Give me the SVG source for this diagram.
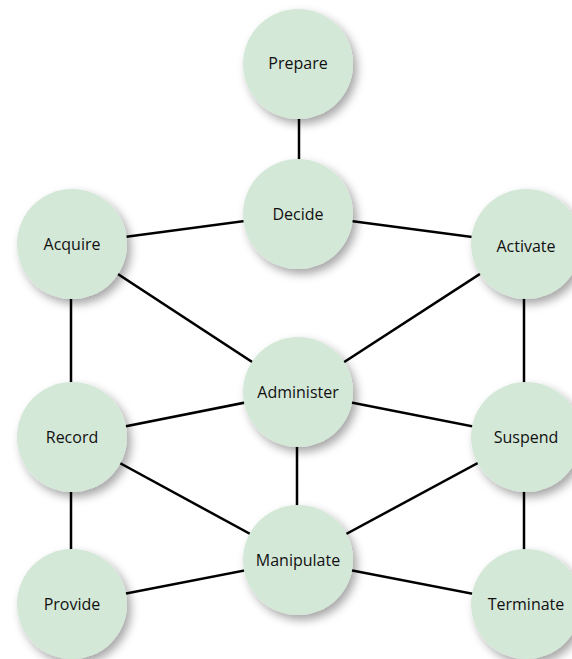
<svg xmlns="http://www.w3.org/2000/svg" width="572" height="659" viewBox="0 0 572 659">
<defs>
<filter id="sh" x="-30%" y="-30%" width="170%" height="170%">
<feDropShadow dx="4" dy="5" stdDeviation="5" flood-color="#000" flood-opacity="0.35"/>
</filter>
</defs>
<style>
.n circle{fill:#d4e8d8;filter:url(#sh)}
.n text{font-family:"Open Sans","Noto Sans",sans-serif;font-size:16px;fill:#111;text-anchor:middle;dominant-baseline:central}
#edges line{stroke:#000;stroke-width:2.5}
</style>
<rect width="572" height="659" fill="#fff"/>
<g id="edges">
<line x1="299" y1="64" x2="299" y2="214"/>
<line x1="298" y1="214" x2="72" y2="244"/>
<line x1="298" y1="214" x2="526" y2="244"/>
<line x1="71" y1="244" x2="71" y2="437"/>
<line x1="72" y1="244" x2="298" y2="392"/>
<line x1="526" y1="244" x2="298" y2="392"/>
<line x1="524" y1="244" x2="524" y2="437"/>
<line x1="298" y1="392" x2="72" y2="437"/>
<line x1="298" y1="392" x2="526" y2="437"/>
<line x1="297" y1="392" x2="297" y2="560"/>
<line x1="72" y1="437" x2="298" y2="560"/>
<line x1="71" y1="437" x2="71" y2="604"/>
<line x1="526" y1="437" x2="298" y2="560"/>
<line x1="524" y1="437" x2="524" y2="604"/>
<line x1="298" y1="560" x2="72" y2="604"/>
<line x1="298" y1="560" x2="526" y2="604"/>
</g>
<g id="prepare" class="n"><circle cx="298" cy="64" r="55"/><text x="298" y="63">Prepare</text></g>
<g id="decide" class="n"><circle cx="298" cy="214" r="55"/><text x="298" y="214">Decide</text></g>
<g id="acquire" class="n"><circle cx="72" cy="244" r="55"/><text x="72" y="244">Acquire</text></g>
<g id="activate" class="n"><circle cx="526" cy="244" r="55"/><text x="526" y="246">Activate</text></g>
<g id="administer" class="n"><circle cx="298" cy="392" r="55"/><text x="298" y="392">Administer</text></g>
<g id="record" class="n"><circle cx="72" cy="437" r="55"/><text x="72" y="437">Record</text></g>
<g id="suspend" class="n"><circle cx="526" cy="437" r="55"/><text x="526" y="437">Suspend</text></g>
<g id="manipulate" class="n"><circle cx="298" cy="560" r="55"/><text x="298" y="560">Manipulate</text></g>
<g id="provide" class="n"><circle cx="72" cy="604" r="55"/><text x="72" y="604">Provide</text></g>
<g id="terminate" class="n"><circle cx="526" cy="604" r="55"/><text x="526" y="604">Terminate</text></g>
</svg>
